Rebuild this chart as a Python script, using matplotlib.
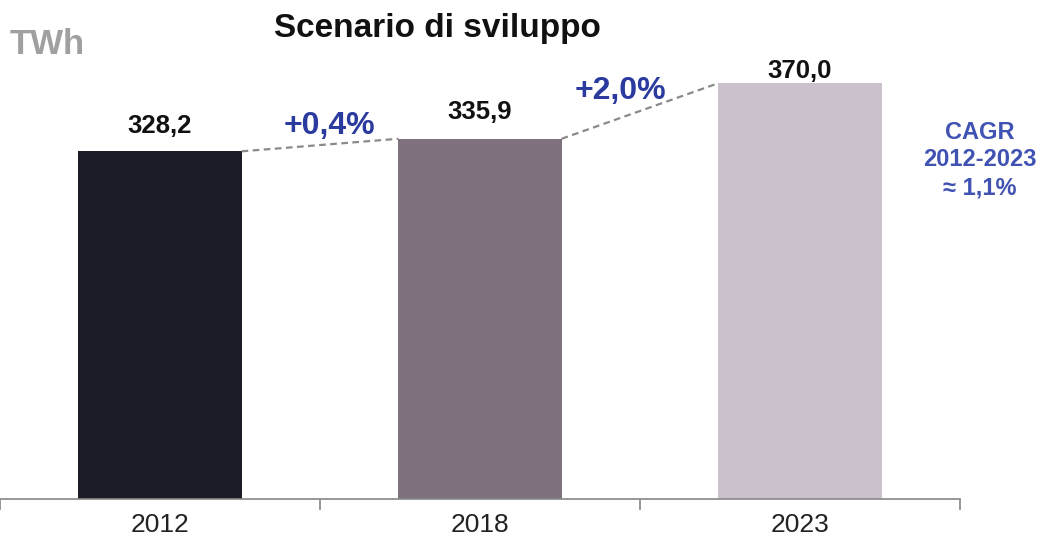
import numpy as np
import matplotlib.pyplot as plt

years = ["2012", "2018", "2023"]
values = [328.2, 335.9, 370.0]
value_labels = ["328,2", "335,9", "370,0"]
label_offsets = [15.4, 16.6, 7.4]
growth = ["+0,4%", "+2,0%"]
growth_pos = [(0.53, 343.6), (1.44, 365.2)]
colors = ["#1b1c25", "#7f717d", "#cac1cc"]

plt.rcParams['font.family'] = ['Liberation Sans', 'DejaVu Sans']

fig = plt.figure(figsize=(10.42, 5.42), dpi=100)
ax = fig.add_axes([0.0, 43/542, 960/1042, 499/542])
x = np.arange(len(years))
w = 0.51
ax.bar(x, values, width=w, color=colors, zorder=2)
ax.set_xlim(-0.5, 2.5)
ax.set_ylim(115, 421)

# dashed connectors between bar corners
for i in range(len(values) - 1):
    ax.plot([x[i] + w/2, x[i+1] - w/2], [values[i], values[i+1]],
            ls=(0, (3, 2)), color="#8a8a8a", lw=1.6, zorder=3)

for i in range(len(values)):
    ax.text(x[i], values[i] + label_offsets[i], value_labels[i], ha="center", va="center",
            fontsize=18.5, fontweight="bold", color="#111111")

for g, (gx, gy) in zip(growth, growth_pos):
    ax.text(gx, gy, g, ha="center", va="center",
            fontsize=23, fontweight="bold", color="#2a3a9e")

for s in ["top", "right", "left"]:
    ax.spines[s].set_visible(False)
ax.spines["bottom"].set_color("#888888")
ax.spines["bottom"].set_linewidth(1.2)
ax.set_yticks([])
ax.set_xticks(x)
ax.set_xticklabels(years, fontsize=19, color="#222222")
ax.tick_params(axis="x", length=0, pad=10)
ax.set_xticks([-0.5, 0.5, 1.5, 2.5], minor=True)
ax.tick_params(axis="x", which="minor", length=8, color="#888888", width=1.2)

fig.text(437/1042, 1 - 28/542, "Scenario di sviluppo", ha="center", va="center",
         fontsize=24, fontweight="bold", color="#111111")
fig.text(10/1042, 1 - 45/542, "TWh", ha="left", va="center",
         fontsize=25, fontweight="bold", color="#a0a0a0")
fig.text(980/1042, 1 - 160/542, "CAGR\n2012-2023\n\u2248 1,1%", ha="center", va="center",
         fontsize=17, fontweight="bold", color="#4052b2", linespacing=1.25)

fig.savefig("out.png", dpi=100)
